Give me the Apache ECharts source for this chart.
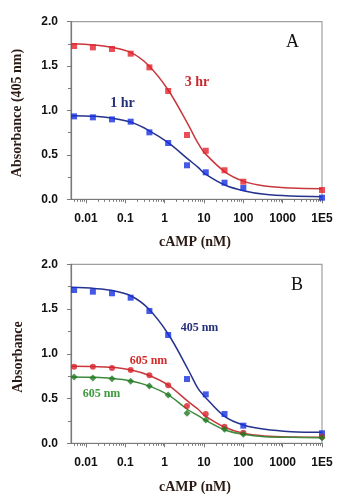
<!DOCTYPE html>
<html>
<head>
<meta charset="utf-8">
<script src="https://cdn.jsdelivr.net/npm/echarts@6/dist/echarts.min.js"></script>
<style>
html,body{margin:0;padding:0;background:#fff;}
#chart{width:343px;height:500px;}
</style>
</head>
<body>
<div id="chart"></div>
<script>
// cAMP concentrations (nM) of the measured points; 1E5 is drawn past a broken axis
const concentrations = [0.005, 0.015, 0.046, 0.137, 0.41, 1.23, 3.7, 11.1, 33.3, 100, 100000];
// Panel A measured absorbance (405 nm)
const a3hr = [1.726, 1.711, 1.693, 1.64, 1.486, 1.22, 0.724, 0.547, 0.327, 0.198, 0.105];
const a1hr = [0.934, 0.923, 0.90, 0.874, 0.754, 0.634, 0.383, 0.304, 0.187, 0.127, 0.018];
// Panel B measured absorbance
const b405 = [1.713, 1.694, 1.676, 1.627, 1.478, 1.21, 0.718, 0.547, 0.327, 0.197, 0.112];
const b605red = [0.856, 0.856, 0.841, 0.819, 0.76, 0.648, 0.417, 0.327, 0.186, 0.119, 0.074];
const b605green = [0.741, 0.73, 0.722, 0.693, 0.64, 0.54, 0.335, 0.26, 0.156, 0.10, 0.063];
// Fitted curves at these concentrations
const curveConc = [0.0042, 0.0166, 0.044, 0.14, 0.38, 1.23, 4.0, 7.1, 10.5, 34, 100, 350, 1660, 100000];
const curveA3hr = [1.752, 1.738, 1.712, 1.651, 1.512, 1.231, 0.837, 0.63, 0.52, 0.31, 0.205, 0.15, 0.127, 0.12];
const curveA1hr = [0.941, 0.934, 0.915, 0.867, 0.78, 0.638, 0.45, 0.36, 0.29, 0.161, 0.097, 0.056, 0.037, 0.03];
const curveB405 = [1.743, 1.73, 1.709, 1.646, 1.508, 1.221, 0.819, 0.61, 0.521, 0.297, 0.204, 0.156, 0.13, 0.123];
const curveB605red = [0.86, 0.857, 0.849, 0.819, 0.763, 0.651, 0.465, 0.38, 0.31, 0.179, 0.112, 0.082, 0.07, 0.067];
const curveB605green = [0.741, 0.737, 0.726, 0.696, 0.644, 0.54, 0.372, 0.31, 0.262, 0.149, 0.101, 0.074, 0.067, 0.063];
// Axis ticks
const xTickValues = [0.01, 0.1, 1, 10, 100, 1000, 100000];
const xTickLabels = ['0.01', '0.1', '1', '10', '100', '1000', '1E5'];

// axis break: 1E5 drawn one decade after 1000
function xPos(c) { return c >= 100000 ? 4 : Math.log10(c); }
const X_MIN = -2.38, X_MAX = 4;

const majorPos = xTickValues.map(xPos);
const minorPos = [];
for (let e = -3; e <= 3; e++) {
  for (let k = 2; k <= 9; k++) {
    const p = e + Math.log10(k);
    if (p > X_MIN && p < X_MAX) minorPos.push(p);
  }
}
const labelMap = {};
majorPos.forEach((p, i) => { labelMap[p.toFixed(3)] = xTickLabels[i]; });

const tickFont = {fontFamily: 'Liberation Sans', fontWeight: 'bold', fontSize: 12, color: '#111'};
const axisGray = '#7a7a7a';

function mainX(gridIndex) {
  return {
    type: 'value', gridIndex, min: X_MIN, max: X_MAX, position: 'bottom',
    axisLine: {show: true, onZero: false, lineStyle: {color: axisGray, width: 1.2}},
    axisTick: {show: true, customValues: majorPos, length: 4, lineStyle: {color: axisGray}},
    axisLabel: Object.assign({show: true, customValues: majorPos, margin: 13,
      formatter: v => labelMap[Number(v).toFixed(3)] || ''}, tickFont),
    splitLine: {show: false}
  };
}
function minorX(gridIndex) {
  return {
    type: 'value', gridIndex, min: X_MIN, max: X_MAX, position: 'bottom',
    axisLine: {show: false, onZero: false},
    axisTick: {show: true, customValues: minorPos, length: 2.5, lineStyle: {color: axisGray}},
    axisLabel: {show: false},
    splitLine: {show: false}
  };
}
function yAx(gridIndex) {
  return {
    type: 'value', gridIndex, min: 0, max: 2, interval: 0.5, position: 'left',
    axisLine: {show: true, onZero: false, lineStyle: {color: axisGray, width: 1.2}},
    axisTick: {show: true, length: 4, lineStyle: {color: axisGray}},
    minorTick: {show: true, splitNumber: 2, length: 3, lineStyle: {color: axisGray}},
    axisLabel: Object.assign({margin: 13, formatter: v => Number(v).toFixed(1)}, tickFont),
    splitLine: {show: false}
  };
}

function pts(vals) { return concentrations.map((c, i) => [xPos(c), vals[i]]); }
function crv(vals) { return curveConc.map((c, i) => [xPos(c), vals[i]]); }

function curve(xi, yi, vals, color) {
  return {type: 'line', xAxisIndex: xi, yAxisIndex: yi, data: crv(vals), smooth: 0.35,
    showSymbol: false, symbol: 'none', silent: true, z: 2,
    lineStyle: {color, width: 1.5}};
}
function scatter(xi, yi, vals, color, symbol, size) {
  return {type: 'scatter', xAxisIndex: xi, yAxisIndex: yi, data: pts(vals), symbol,
    symbolSize: size, z: 3, itemStyle: {color}};
}

function txt(x, y, text, font, fill, rotation) {
  return {type: 'text', x, y, rotation: rotation || 0, silent: true,
    style: {text, x: 0, y: 0, font, fill, textAlign: 'center', textVerticalAlign: 'middle',
      align: 'center', verticalAlign: 'middle'}};
}

const serifBold = 'bold 14px "Liberation Serif", "DejaVu Serif", serif';
const option = {
  animation: false,
  backgroundColor: '#fff',
  grid: [
    {left: 71, top: 21.7, width: 251, height: 177.6, show: true, borderColor: '#a0a0a0', borderWidth: 1.2, outerBoundsMode: 'none'},
    {left: 71, top: 264.3, width: 251, height: 179, show: true, borderColor: '#a0a0a0', borderWidth: 1.2, outerBoundsMode: 'none'}
  ],
  xAxis: [mainX(0), minorX(0), mainX(1), minorX(1)],
  yAxis: [yAx(0), yAx(1)],
  series: [
    curve(0, 0, curveA3hr, '#c8383c'),
    curve(0, 0, curveA1hr, '#25338f'),
    scatter(0, 0, a3hr, '#e4202a', 'rect', 6),
    scatter(0, 0, a1hr, '#1530e0', 'rect', 6),
    curve(2, 1, curveB405, '#25338f'),
    curve(2, 1, curveB605red, '#c8383c'),
    curve(2, 1, curveB605green, '#3d8b3d'),
    scatter(2, 1, b405, '#1530e0', 'rect', 6),
    scatter(2, 1, b605red, '#d8202a', 'circle', 6),
    scatter(2, 1, b605green, '#1f7a22', 'diamond', 7)
  ],
  graphic: [
    txt(17, 113, 'Absorbance (405 nm)', serifBold, '#2a1a14', Math.PI / 2),
    txt(18, 357, 'Absorbance', serifBold, '#2a1a14', Math.PI / 2),
    txt(195, 242, 'cAMP (nM)', serifBold, '#2a1a14'),
    txt(195, 487, 'cAMP (nM)', serifBold, '#2a1a14'),
    txt(292.5, 42.5, 'A', '18px "Liberation Serif", serif', '#111'),
    txt(297, 285.5, 'B', '18px "Liberation Serif", serif', '#111'),
    txt(197, 82, '3 hr', serifBold, '#c62a2f'),
    txt(122.5, 103, '1 hr', serifBold, '#23307a'),
    txt(199.5, 327.5, '405 nm', 'bold 12px "Liberation Serif", serif', '#27307a'),
    txt(148.5, 361, '605 nm', 'bold 12px "Liberation Serif", serif', '#d42a2a'),
    txt(101.5, 394, '605 nm', 'bold 12px "Liberation Serif", serif', '#3e9a3e')
  ]
};

const chart = echarts.init(document.getElementById('chart'), null, {renderer: 'canvas'});
chart.setOption(option);
</script>
</body>
</html>
